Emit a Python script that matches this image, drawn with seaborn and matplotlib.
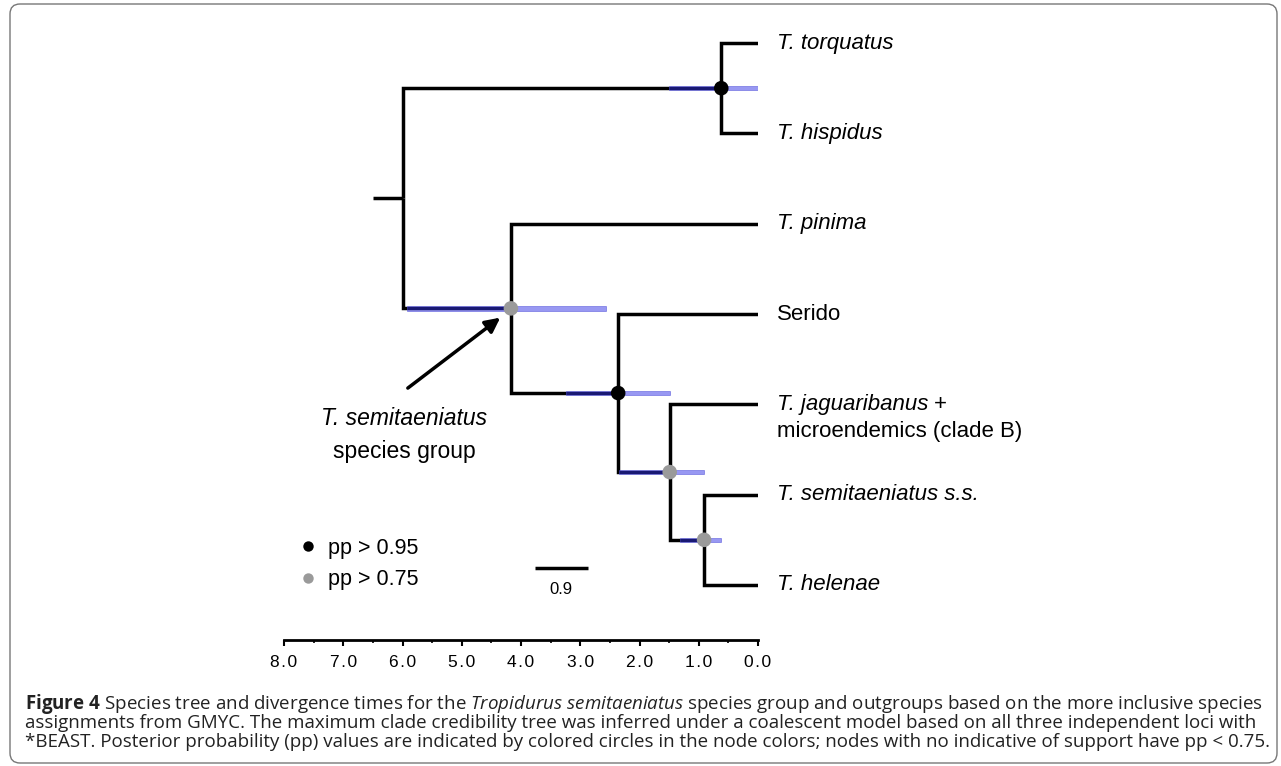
import numpy as np
import pandas as pd
import matplotlib
matplotlib.use("Agg")
import matplotlib.pyplot as plt
import seaborn as sns
from matplotlib.lines import Line2D
from matplotlib.patches import FancyBboxPatch
from matplotlib.transforms import IdentityTransform
from matplotlib.ticker import MultipleLocator

# ---- data (ages in Myr before present) ----
tip_labels = ["T. torquatus", "T. hispidus", "T. pinima", "Serido",
              "T. jaguaribanus", "T. semitaeniatus s.s.", "T. helenae"]
tip_italic = [True, True, True, False, True, True, True]

node_names = ["root", "outgroup", "semit_group", "serido_split", "jag_split", "ss_split"]
node_ages = [6.0, 0.62, 4.17, 2.36, 1.49, 0.91]
node_children = [["outgroup", "semit_group"],
                 ["T. torquatus", "T. hispidus"],
                 ["T. pinima", "serido_split"],
                 ["Serido", "jag_split"],
                 ["T. jaguaribanus", "ss_split"],
                 ["T. semitaeniatus s.s.", "T. helenae"]]
hpd_old = [np.nan, 1.50, 5.92, 3.24, 2.35, 1.32]
hpd_young = [np.nan, 0.00, 2.57, 1.49, 0.91, 0.62]
node_support = ["", "pp > 0.95", "pp > 0.75", "pp > 0.95", "pp > 0.75", "pp > 0.75"]
root_stub_age = 6.5
scale_len = 0.9
time_ticks = np.arange(0, 9)

support_levels = ["pp > 0.95", "pp > 0.75"]
support_colors = {"pp > 0.95": "black", "pp > 0.75": "#9a9a9a"}

caption_lines = [
    r"$\mathbf{Figure\ 4}$ Species tree and divergence times for the "
    r"$\mathit{Tropidurus\ semitaeniatus}$ species group and outgroups based on the more inclusive species",
    "assignments from GMYC. The maximum clade credibility tree was inferred under a coalescent "
    "model based on all three independent loci with",
    "*BEAST. Posterior probability (pp) values are indicated by colored circles in the node colors; "
    "nodes with no indicative of support have pp < 0.75.",
]

# ---- node positions ----
age = {t: 0.0 for t in tip_labels}
ypos = {t: float(i) for i, t in enumerate(tip_labels)}
for name, a, kids in reversed(list(zip(node_names, node_ages, node_children))):
    age[name] = a
    ypos[name] = np.mean([ypos[k] for k in kids])

rows = []
for name, kids in zip(node_names, node_children):
    for k in kids:
        b = f"{name}-{k}"
        rows += [(b, age[name], ypos[name]), (b, age[name], ypos[k]), (b, age[k], ypos[k])]
rows += [("stem", root_stub_age, ypos["root"]), ("stem", age["root"], ypos["root"])]
branches = pd.DataFrame(rows, columns=["branch", "age", "y"])

nodes = pd.DataFrame({"age": node_ages, "y": [ypos[n] for n in node_names],
                      "support": node_support, "old": hpd_old, "young": hpd_young})

# ---- figure ----
sns.set_theme(style="white")
plt.rcParams["font.family"] = ["Liberation Sans", "DejaVu Sans"]
plt.rcParams["text.color"] = "black"
plt.rcParams["xtick.color"] = "black"
plt.rcParams["mathtext.fontset"] = "custom"
plt.rcParams["mathtext.it"] = "Open Sans:italic"
plt.rcParams["mathtext.bf"] = "Open Sans:bold"
plt.rcParams["mathtext.rm"] = "Open Sans"

W, H = 1281, 766
fig = plt.figure(figsize=(W / 100, H / 100), dpi=100)
fig.patch.set_facecolor("white")
ax = fig.add_axes([284 / W, 126 / H, 474 / W, 620 / H])

sns.lineplot(data=branches, x="age", y="y", units="branch", estimator=None, sort=False,
             color="black", lw=2.5, solid_joinstyle="miter", solid_capstyle="butt",
             ax=ax, legend=False, zorder=2)

hpd = nodes.dropna(subset=["old"])
ax.barh(hpd["y"], hpd["old"] - hpd["young"], left=hpd["young"], height=0.05,
        color=(0.2, 0.2, 0.9, 0.5), edgecolor=(0.3, 0.3, 0.85, 0.7), linewidth=0.5, zorder=3)

sup = nodes[nodes["support"] != ""]
sns.scatterplot(data=sup, x="age", y="y", hue="support", palette=support_colors,
                s=110, edgecolor="none", legend=False, ax=ax, zorder=5)

ax.set_xlim(8, 0)
ax.set_ylim(6.609, -0.255)
ax.set_xlabel("")
ax.set_ylabel("")
ax.set_yticks([])
ax.set_xticks(time_ticks)
ax.set_xticklabels(["\u200a".join(f"{t:.1f}") for t in time_ticks])
ax.xaxis.set_minor_locator(MultipleLocator(0.5))
for s in ["left", "top", "right"]:
    ax.spines[s].set_visible(False)
ax.spines["bottom"].set_linewidth(2)
ax.spines["bottom"].set_color("black")
ax.tick_params(axis="x", which="major", direction="out", length=4, width=1.5,
               labelsize=12.5, pad=7, colors="black", bottom=True)
ax.tick_params(axis="x", which="minor", direction="out", length=2, width=1.2,
               colors="black", bottom=True)
ax.set_facecolor("white")

# tip labels
for lab, it in zip(tip_labels, tip_italic):
    t = ax.text(-0.32, ypos[lab], lab, fontsize=16, style="italic" if it else "normal",
                va="center", ha="left", color="black")
    if lab == "T. jaguaribanus":
        ax.annotate("+", xy=(1, 0.5), xycoords=t, xytext=(4, 0), textcoords="offset points",
                    fontsize=16, va="center", ha="left", color="black")
        ax.text(-0.32, ypos[lab] + 0.3, "microendemics (clade B)", fontsize=16,
                va="center", ha="left", color="black")

# group label + arrow
ax.text(5.97, 4.16, "T. semitaeniatus", fontsize=16.5, style="italic", ha="center", va="center")
ax.text(5.97, 4.52, "species group", fontsize=16.5, ha="center", va="center")
ax.annotate("", xy=(4.35, 3.04), xytext=(5.91, 3.82),
            arrowprops=dict(arrowstyle="-|>", lw=2.5, color="black", mutation_scale=22,
                            shrinkA=0, shrinkB=0))

# support legend
handles = [Line2D([], [], ls="", marker="o", ms=7.5, color=support_colors[k], mec="none")
           for k in support_levels]
leg = ax.legend(handles, support_levels, loc="center left", bbox_to_anchor=(0.0325, 0.1226),
                frameon=False, fontsize=15.5, handlelength=0.8, handletextpad=0.53,
                labelspacing=0.5, borderpad=0, borderaxespad=0)
for txt in leg.get_texts():
    txt.set_color("black")

# scale bar
ax.hlines(5.81, 3.77, 3.77 - scale_len, color="black", lw=2.5)
ax.text(3.77 - scale_len / 2, 6.05, f"{scale_len}", fontsize=12, ha="center", va="center")

# frame and caption
frame = FancyBboxPatch((10, 3), 1267, 759, boxstyle="round,pad=0,rounding_size=10",
                       transform=IdentityTransform(), fill=False, ec="#777777", lw=1)
fig.add_artist(frame)

cap_size = 11
caps = [fig.text(25 / W, 1 - y / H, s, fontsize=cap_size, family="Open Sans",
                 color="#222222", va="center", ha="left")
        for s, y in zip(caption_lines, [704, 723, 742])]
fig.canvas.draw()
w = caps[0].get_window_extent().width
for c in caps:
    c.set_fontsize(cap_size * 1237 / w)

fig.savefig("out.png", dpi=100, facecolor="white")
